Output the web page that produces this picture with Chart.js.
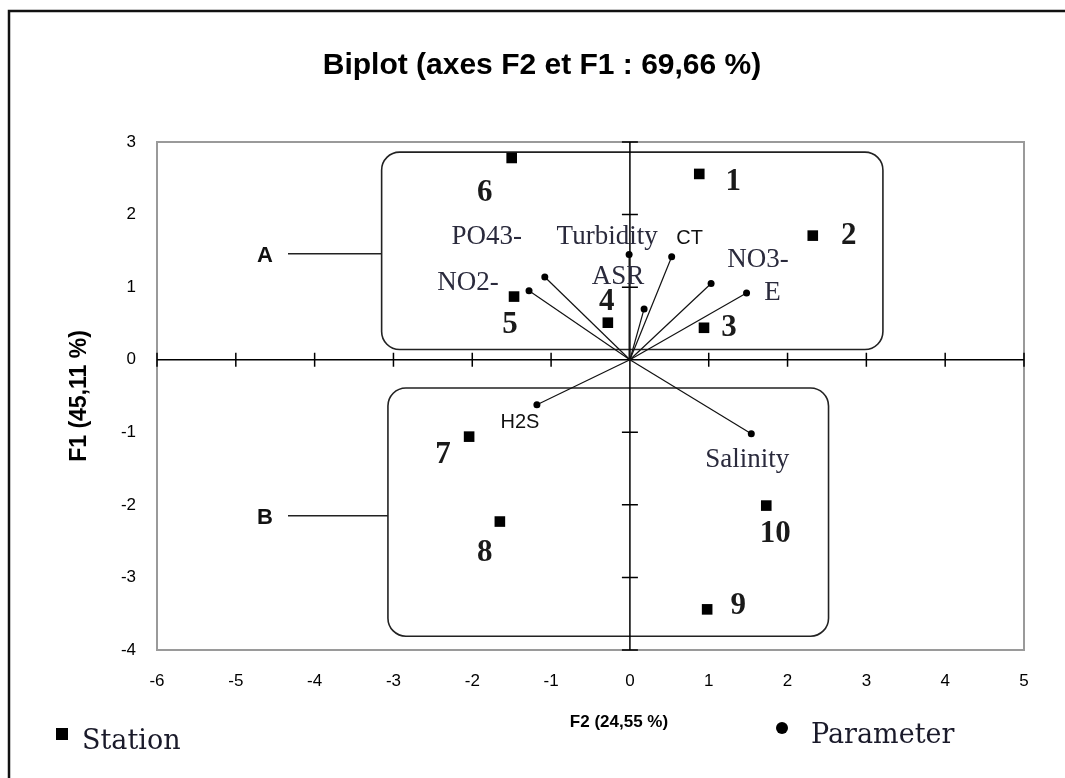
<!DOCTYPE html>
<html>
<head>
<meta charset="utf-8">
<script src="https://cdn.jsdelivr.net/npm/chart.js@4"></script>
<style>
  html, body { margin: 0; padding: 0; background: #fff; }
  #wrap { width: 1065px; height: 778px; }
</style>
</head>
<body>
<div id="wrap"><canvas id="biplot" width="1065" height="778"></canvas></div>
<script>
// Station scores (F2, F1)
const stationNames = ['1', '2', '3', '4', '5', '6', '7', '8', '9', '10'];
const stationF2 = [0.88, 2.32, 0.94, -0.28, -1.47, -1.50, -2.04, -1.65, 0.98, 1.73];
const stationF1 = [2.56, 1.71, 0.44, 0.51, 0.87, 2.78, -1.06, -2.23, -3.44, -2.01];

// Parameter loadings (F2, F1)
const paramNames = ['Turbidity', 'CT', 'NO3-', 'E', 'PO43-', 'NO2-', 'ASR', 'H2S', 'Salinity'];
const paramF2 = [-0.01, 0.53, 1.03, 1.48, -1.08, -1.28, 0.18, -1.18, 1.54];
const paramF1 = [1.45, 1.42, 1.05, 0.92, 1.14, 0.95, 0.70, -0.62, -1.02];

const xTicks = [-6, -5, -4, -3, -2, -1, 0, 1, 2, 3, 4, 5];
const yTicks = [3, 2, 1, 0, -1, -2, -3, -4];

// label placement, pixels from the marker
const stationLabelOffset = [[34, 8], [36, 0], [25, 0], [-1, -21], [-4, 28], [-27, 35], [-26, 18], [-15, 31], [31, -3], [9, 28]];
const paramLabelOffset = [[-22, -18], [18, -18], [47, -24], [26, 0], [-58, -40], [-61, -8], [-26, -32], [-17, 18], [-4, 26]];
const paramSans = { 'CT': true, 'H2S': true };

// group frames in data units
const groups = [
  { name: 'A', x0: -3.15, x1: 3.21, y0: 2.86, y1: 0.14, tagY: 1.46 },
  { name: 'B', x0: -3.07, x1: 2.52, y0: -0.39, y1: -3.81, tagY: -2.15 }
];

const SANS = "'Liberation Sans', Arial, sans-serif";
const SERIF = "'Liberation Serif', 'Times New Roman', serif";
const WIDE_SERIF = "'DejaVu Serif', Georgia, serif";

function roundBox(ctx, x0, y0, x1, y1, r) {
  ctx.beginPath();
  ctx.moveTo(x0 + r, y0);
  ctx.arcTo(x1, y0, x1, y1, r);
  ctx.arcTo(x1, y1, x0, y1, r);
  ctx.arcTo(x0, y1, x0, y0, r);
  ctx.arcTo(x0, y0, x1, y0, r);
  ctx.closePath();
  ctx.stroke();
}

const biplotDecor = {
  id: 'biplotDecor',
  beforeDatasetsDraw(chart) {
    const { ctx, chartArea: a, scales: { x, y } } = chart;
    ctx.save();

    // page frame
    ctx.strokeStyle = '#111';
    ctx.lineWidth = 2.5;
    ctx.beginPath();
    ctx.moveTo(9, 778);
    ctx.lineTo(9, 11);
    ctx.lineTo(1065, 11);
    ctx.stroke();

    // plot border
    ctx.strokeStyle = '#9a9a9a';
    ctx.lineWidth = 2;
    ctx.strokeRect(a.left, a.top, a.right - a.left, a.bottom - a.top);

    // group frames
    ctx.strokeStyle = '#222';
    ctx.lineWidth = 1.6;
    groups.forEach(g => {
      const gx0 = x.getPixelForValue(g.x0), gx1 = x.getPixelForValue(g.x1);
      const gy0 = y.getPixelForValue(g.y0), gy1 = y.getPixelForValue(g.y1);
      roundBox(ctx, gx0, gy0, gx1, gy1, 18);
      const ty = y.getPixelForValue(g.tagY);
      ctx.beginPath();
      ctx.moveTo(288, ty);
      ctx.lineTo(gx0, ty);
      ctx.stroke();
      ctx.fillStyle = '#111';
      ctx.font = 'bold 22px ' + SANS;
      ctx.textAlign = 'center';
      ctx.textBaseline = 'middle';
      ctx.fillText(g.name, 265, ty + 2);
    });

    // axes through the origin
    const x0 = x.getPixelForValue(0), y0 = y.getPixelForValue(0);
    ctx.strokeStyle = '#000';
    ctx.lineWidth = 1.5;
    ctx.beginPath();
    ctx.moveTo(a.left, y0);
    ctx.lineTo(a.right, y0);
    ctx.moveTo(x0, a.top);
    ctx.lineTo(x0, a.bottom);
    xTicks.forEach(t => {
      const px = x.getPixelForValue(t);
      ctx.moveTo(px, y0 - 7);
      ctx.lineTo(px, y0 + 7);
    });
    yTicks.forEach(t => {
      const py = y.getPixelForValue(t);
      ctx.moveTo(x0 - 8, py);
      ctx.lineTo(x0 + 8, py);
    });
    ctx.stroke();
    ctx.restore();
  },
  afterDatasetsDraw(chart) {
    const { ctx, chartArea: a, scales: { x, y } } = chart;
    ctx.save();
    ctx.textAlign = 'center';
    ctx.textBaseline = 'middle';

    // tick labels
    ctx.fillStyle = '#000';
    ctx.font = '17px ' + SANS;
    xTicks.forEach(t => ctx.fillText(String(t), x.getPixelForValue(t), a.bottom + 31));
    ctx.textAlign = 'right';
    yTicks.forEach(t => ctx.fillText(String(t), a.left - 21, y.getPixelForValue(t)));

    // titles
    ctx.textAlign = 'center';
    ctx.font = 'bold 30px ' + SANS;
    ctx.fillText('Biplot (axes F2 et F1 : 69,66 %)', 542, 66);
    ctx.font = 'bold 17px ' + SANS;
    ctx.fillText('F2 (24,55 %)', 619, 722);
    ctx.save();
    ctx.translate(80, 396);
    ctx.rotate(-Math.PI / 2);
    ctx.font = 'bold 23px ' + SANS;
    ctx.fillText('F1 (45,11 %)', 0, 0);
    ctx.restore();

    // station labels
    ctx.fillStyle = '#1a1a1a';
    ctx.font = 'bold 31px ' + SERIF;
    stationNames.forEach((n, i) => {
      const px = x.getPixelForValue(stationF2[i]) + stationLabelOffset[i][0];
      const py = y.getPixelForValue(stationF1[i]) + stationLabelOffset[i][1];
      ctx.fillText(n, px, py);
    });

    // parameter labels
    paramNames.forEach((n, i) => {
      const px = x.getPixelForValue(paramF2[i]) + paramLabelOffset[i][0];
      const py = y.getPixelForValue(paramF1[i]) + paramLabelOffset[i][1];
      if (paramSans[n]) {
        ctx.fillStyle = '#111';
        ctx.font = '20px ' + SANS;
      } else {
        ctx.fillStyle = '#2a2a3c';
        ctx.font = '27px ' + SERIF;
      }
      ctx.fillText(n, px, py);
    });

    // legend
    ctx.fillStyle = '#000';
    ctx.fillRect(56, 728, 12, 12);
    ctx.beginPath();
    ctx.arc(782, 728, 6, 0, Math.PI * 2);
    ctx.fill();
    ctx.fillStyle = '#1a1a2a';
    ctx.font = '27px ' + WIDE_SERIF;
    ctx.textAlign = 'left';
    ctx.fillText('Station', 82, 742);
    ctx.fillText('Parameter', 811, 736);
    ctx.restore();
  }
};

const datasets = [{
  label: 'Station',
  data: stationF2.map((v, i) => ({ x: v, y: stationF1[i] })),
  pointStyle: 'rect',
  pointRadius: 7.5,
  backgroundColor: '#000',
  borderColor: '#000',
  borderWidth: 0,
  showLine: false
}];

paramNames.forEach((n, i) => {
  datasets.push({
    label: n,
    data: [{ x: 0, y: 0 }, { x: paramF2[i], y: paramF1[i] }],
    showLine: true,
    borderColor: '#111',
    borderWidth: 1.2,
    pointRadius: [0, 3.5],
    pointBackgroundColor: '#000',
    pointBorderWidth: 0
  });
});

new Chart(document.getElementById('biplot').getContext('2d'), {
  type: 'scatter',
  data: { datasets: datasets },
  options: {
    responsive: false,
    animation: false,
    layout: { padding: { left: 157, top: 142, right: 41, bottom: 128 } },
    plugins: {
      legend: { display: false },
      title: { display: false },
      tooltip: { enabled: false }
    },
    scales: {
      x: { type: 'linear', min: -6, max: 5, display: false },
      y: { type: 'linear', min: -4, max: 3, display: false }
    }
  },
  plugins: [biplotDecor]
});
</script>
</body>
</html>
